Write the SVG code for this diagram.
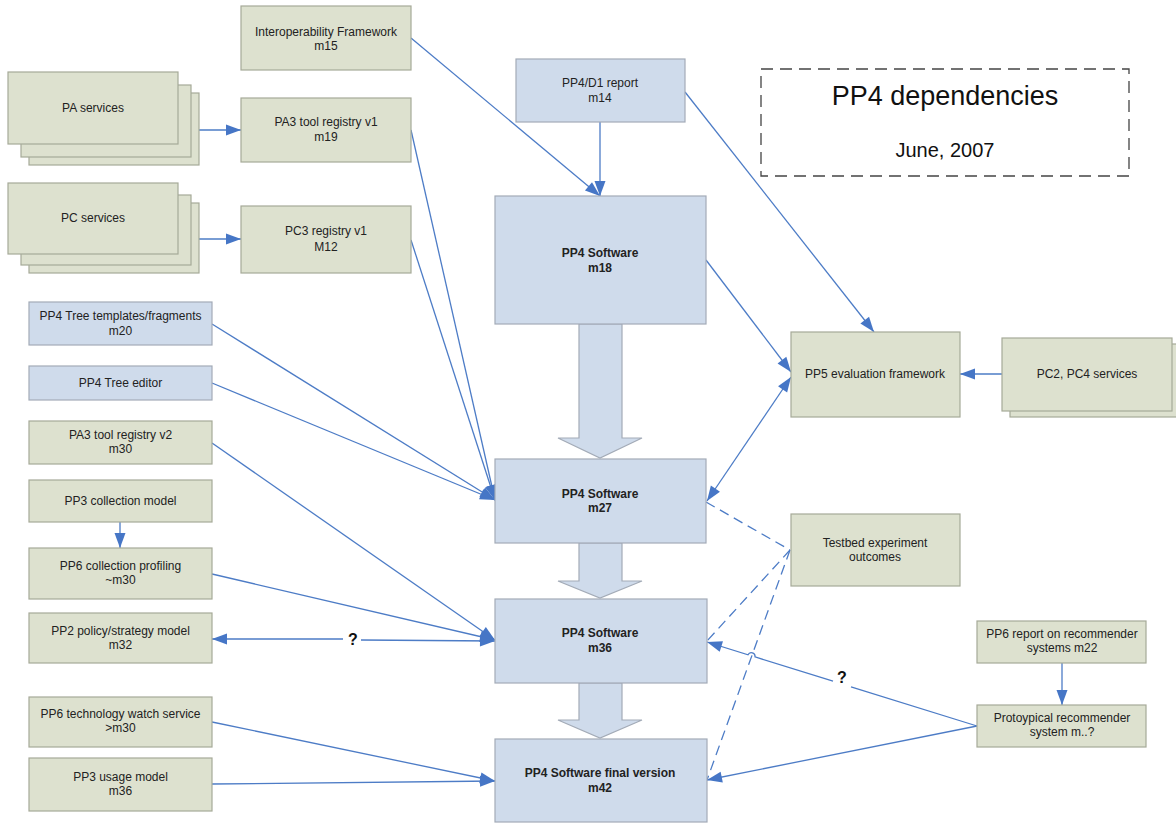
<svg xmlns="http://www.w3.org/2000/svg" width="1176" height="823" viewBox="0 0 1176 823">
<style>
.g{fill:#dde1cf;stroke:#a6aa98;stroke-width:1.2}
.b{fill:#cfdbeb;stroke:#a3abb7;stroke-width:1.2}
.t{font-family:"Liberation Sans",Arial,sans-serif;font-size:12px;fill:#222;text-anchor:middle}
.tb{font-weight:bold}
.c{stroke:#4d7cc6;stroke-width:1.3;fill:none}
.ce{marker-end:url(#ah)}
.cs{marker-start:url(#ah)}
.d{stroke-dasharray:10,6}
.q{font-family:"Liberation Sans",Arial,sans-serif;font-size:16px;font-weight:bold;fill:#111;text-anchor:middle}
.ttl{font-family:"Liberation Sans",Arial,sans-serif;fill:#111;text-anchor:middle}
</style>
<defs>
<marker id="ah" markerUnits="userSpaceOnUse" markerWidth="15" markerHeight="11" refX="15" refY="5.5" orient="auto-start-reverse" viewBox="0 0 15 11" overflow="visible"><path d="M0,0 L15,5.5 L0,11 z" fill="#4676c6"/></marker>
</defs>
<rect width="1176" height="823" fill="#ffffff"/>

<g id="title">
<rect x="761" y="69" width="368" height="107" fill="none" stroke="#444" stroke-width="1.3" stroke-dasharray="12,7"/>
<text class="ttl" x="945" y="105" font-size="27">PP4 dependencies</text>
<text class="ttl" x="945" y="157" font-size="20">June, 2007</text>
</g>

<g id="blockarrows">
<polygon class="b" points="579,324 622,324 622,438 642,438 600,458 558,438 579,438"/>
<polygon class="b" points="579,543 622,543 622,581 642,581 600,598 558,581 579,581"/>
<polygon class="b" points="579,683 622,683 622,720 642,720 600,738 558,720 579,720"/>
</g>

<g id="connectors">
<path class="c ce" d="M199,130 L241,130"/>
<path class="c ce" d="M199,239 L241,239"/>
<path class="c ce" d="M411,38 L600,196"/>
<path class="c ce" d="M600,122 L600,196"/>
<path class="c ce" d="M685,92 L874,332"/>
<path class="c ce" d="M706,260 L791,372"/>
<path class="c ce" d="M1002,374 L960,374"/>
<path class="c cs ce" d="M791,377 L707,501"/>
<path class="c ce" d="M411,130 L495,500"/>
<path class="c ce" d="M411,240 L495,500"/>
<path class="c ce" d="M212,324 L495,500"/>
<path class="c ce" d="M212,383 L495,500"/>
<path class="c ce" d="M212,443 L495,640"/>
<path class="c ce" d="M120,522 L120,548"/>
<path class="c ce" d="M212,574 L495,640"/>
<path class="c cs ce" d="M495,641 L361,640 M343,639 L212,639"/>
<path class="c ce" d="M212,722 L495,781"/>
<path class="c ce" d="M212,784 L495,781"/>
<path class="c d" d="M706,502 L790,550"/>
<path class="c d" d="M790,550 L707,641"/>
<path class="c d" d="M790,550 L707,780"/>
<path class="c ce" d="M977,726 L851,686.8 M833,681.2 L755,656.9 A3.7,3.7 0 0 0 748,654.8 L707,642"/>
<path class="c ce" d="M977,726 L707,780"/>
<path class="c ce" d="M1062,663 L1062,705"/>
<text class="q" x="353" y="645">?</text>
<text class="q" x="842" y="683">?</text>
</g>

<g id="interop">
<rect class="g" x="241" y="6" width="170" height="64"/>
<text class="t" x="326" y="36">Interoperability Framework</text>
<text class="t" x="326" y="50">m15</text>
</g>

<g id="pa-services">
<rect class="g" x="29" y="93" width="170" height="72"/>
<rect class="g" x="21" y="85" width="170" height="72"/>
<rect class="g" x="8" y="72" width="170" height="72"/>
<text class="t" x="93" y="112">PA services</text>
</g>

<g id="pa3-v1">
<rect class="g" x="241" y="98" width="170" height="64"/>
<text class="t" x="326" y="126">PA3 tool registry v1</text>
<text class="t" x="326" y="141">m19</text>
</g>

<g id="pc-services">
<rect class="g" x="29" y="203" width="170" height="70"/>
<rect class="g" x="21" y="195" width="170" height="70"/>
<rect class="g" x="8" y="183" width="170" height="71"/>
<text class="t" x="93" y="222">PC services</text>
</g>

<g id="pc3-v1">
<rect class="g" x="241" y="206" width="170" height="67"/>
<text class="t" x="326" y="235">PC3 registry v1</text>
<text class="t" x="326" y="251">M12</text>
</g>

<g id="d1-report">
<rect class="b" x="516" y="59" width="169" height="63"/>
<text class="t" x="600" y="87">PP4/D1 report</text>
<text class="t" x="600" y="102">m14</text>
</g>

<g id="sw-m18">
<rect class="b" x="495" y="196" width="211" height="128"/>
<text class="t tb" x="600" y="257">PP4 Software</text>
<text class="t tb" x="600" y="272">m18</text>
</g>

<g id="pp5">
<rect class="g" x="791" y="332" width="169" height="85"/>
<text class="t" x="875" y="378">PP5 evaluation framework</text>
</g>

<g id="pc2-pc4">
<rect class="g" x="1010" y="344" width="172" height="73"/>
<rect class="g" x="1002" y="338" width="170" height="73"/>
<text class="t" x="1087" y="378">PC2, PC4 services</text>
</g>

<g id="tree-templates">
<rect class="b" x="29" y="302" width="183" height="43"/>
<text class="t" x="120.5" y="320">PP4 Tree templates/fragments</text>
<text class="t" x="120.5" y="335">m20</text>
</g>

<g id="tree-editor">
<rect class="b" x="29" y="366" width="183" height="34"/>
<text class="t" x="120.5" y="387">PP4 Tree editor</text>
</g>

<g id="pa3-v2">
<rect class="g" x="29" y="421" width="183" height="43"/>
<text class="t" x="120.5" y="439">PA3 tool registry v2</text>
<text class="t" x="120.5" y="453">m30</text>
</g>

<g id="pp3-collection">
<rect class="g" x="29" y="480" width="183" height="42"/>
<text class="t" x="120.5" y="505">PP3 collection model</text>
</g>

<g id="pp6-profiling">
<rect class="g" x="29" y="548" width="183" height="51"/>
<text class="t" x="120.5" y="570">PP6 collection profiling</text>
<text class="t" x="120.5" y="584">~m30</text>
</g>

<g id="pp2-policy">
<rect class="g" x="29" y="613" width="183" height="50"/>
<text class="t" x="120.5" y="635">PP2 policy/strategy model</text>
<text class="t" x="120.5" y="649">m32</text>
</g>

<g id="pp6-techwatch">
<rect class="g" x="29" y="697" width="183" height="50"/>
<text class="t" x="120.5" y="718">PP6 technology watch service</text>
<text class="t" x="120.5" y="732">&gt;m30</text>
</g>

<g id="pp3-usage">
<rect class="g" x="29" y="758" width="183" height="53"/>
<text class="t" x="120.5" y="781">PP3 usage model</text>
<text class="t" x="120.5" y="795">m36</text>
</g>

<g id="sw-m27">
<rect class="b" x="495" y="459" width="211" height="84"/>
<text class="t tb" x="600" y="498">PP4 Software</text>
<text class="t tb" x="600" y="512">m27</text>
</g>

<g id="sw-m36">
<rect class="b" x="495" y="599" width="212" height="84"/>
<text class="t tb" x="600" y="637">PP4 Software</text>
<text class="t tb" x="600" y="652">m36</text>
</g>

<g id="sw-m42">
<rect class="b" x="495" y="739" width="212" height="83"/>
<text class="t tb" x="600" y="777">PP4 Software final version</text>
<text class="t tb" x="600" y="792">m42</text>
</g>

<g id="testbed">
<rect class="g" x="791" y="514" width="169" height="72"/>
<text class="t" x="875" y="547">Testbed experiment</text>
<text class="t" x="875" y="561">outcomes</text>
</g>

<g id="pp6-report">
<rect class="g" x="977" y="621" width="169" height="42"/>
<text class="t" x="1062" y="638">PP6 report on recommender</text>
<text class="t" x="1062" y="652">systems m22</text>
</g>

<g id="recommender">
<rect class="g" x="977" y="705" width="169" height="42"/>
<text class="t" x="1062" y="722">Protoypical recommender</text>
<text class="t" x="1062" y="736">system m..?</text>
</g>
</svg>
